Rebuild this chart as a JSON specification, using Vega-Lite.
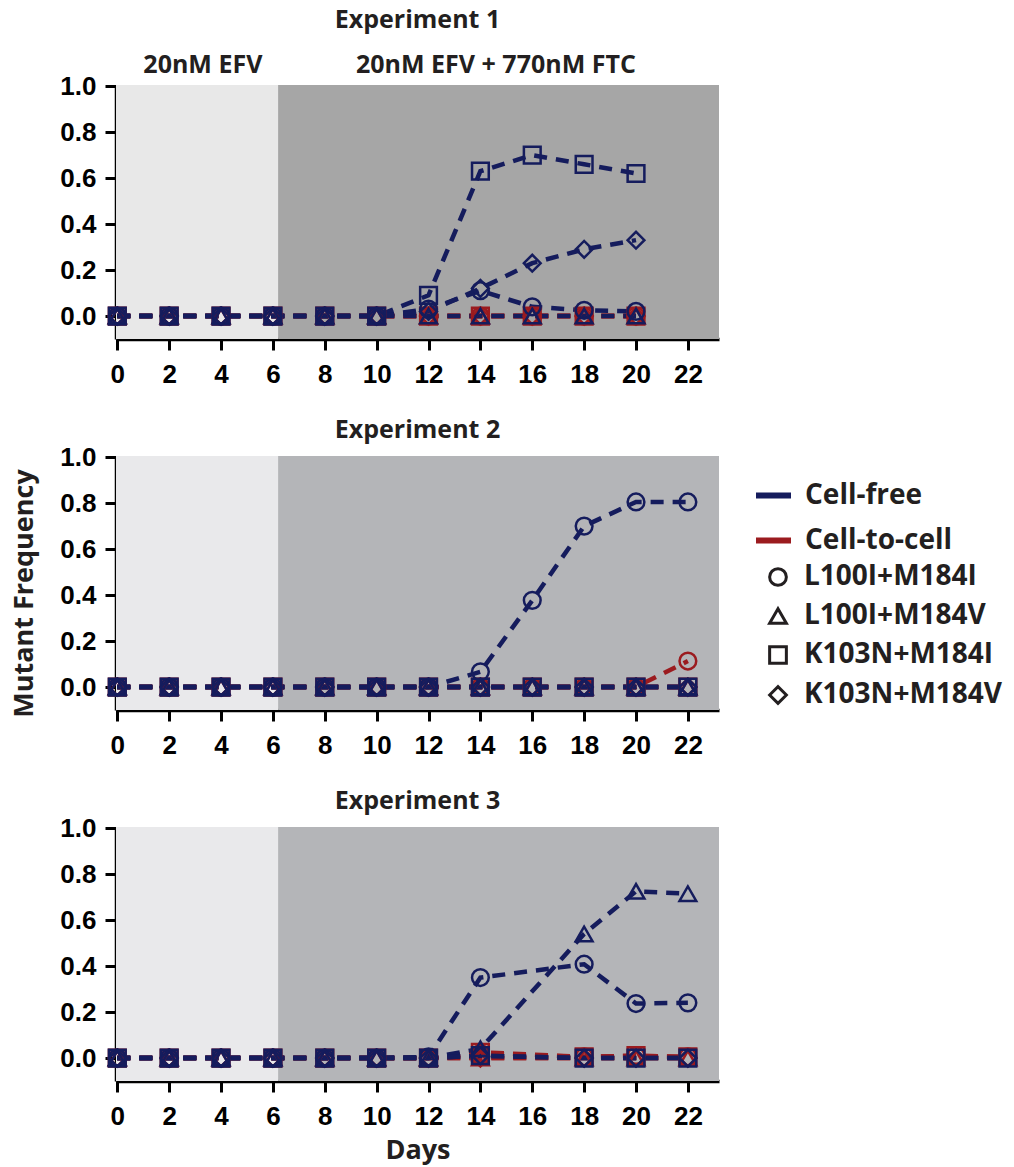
{
"$schema":"https://vega.github.io/schema/vega-lite/v6.json",
"background":"white",
"padding":{"left":10,"top":8,"right":5,"bottom":5},
"bounds":"flush",
"spacing":117,
"datasets":{
"zones":[
{"z":"pre","s":-0.05,"t":6.2,"mid":3.3,"label":"20nM EFV"},
{"z":"post","s":6.2,"t":23.2,"mid":14.6,"label":"20nM EFV + 770nM FTC"}
],
"obs":[
{"e":1,"m":"Cell-to-cell","k":"L100I+M184I","d":0,"f":0},{"e":1,"m":"Cell-to-cell","k":"L100I+M184I","d":2,"f":0},{"e":1,"m":"Cell-to-cell","k":"L100I+M184I","d":4,"f":0},{"e":1,"m":"Cell-to-cell","k":"L100I+M184I","d":6,"f":0},{"e":1,"m":"Cell-to-cell","k":"L100I+M184I","d":8,"f":0},{"e":1,"m":"Cell-to-cell","k":"L100I+M184I","d":10,"f":0},{"e":1,"m":"Cell-to-cell","k":"L100I+M184I","d":12,"f":0},{"e":1,"m":"Cell-to-cell","k":"L100I+M184I","d":14,"f":0},{"e":1,"m":"Cell-to-cell","k":"L100I+M184I","d":16,"f":0},{"e":1,"m":"Cell-to-cell","k":"L100I+M184I","d":18,"f":0},{"e":1,"m":"Cell-to-cell","k":"L100I+M184I","d":20,"f":0},
{"e":1,"m":"Cell-to-cell","k":"L100I+M184V","d":0,"f":0},{"e":1,"m":"Cell-to-cell","k":"L100I+M184V","d":2,"f":0},{"e":1,"m":"Cell-to-cell","k":"L100I+M184V","d":4,"f":0},{"e":1,"m":"Cell-to-cell","k":"L100I+M184V","d":6,"f":0},{"e":1,"m":"Cell-to-cell","k":"L100I+M184V","d":8,"f":0},{"e":1,"m":"Cell-to-cell","k":"L100I+M184V","d":10,"f":0},{"e":1,"m":"Cell-to-cell","k":"L100I+M184V","d":12,"f":0},{"e":1,"m":"Cell-to-cell","k":"L100I+M184V","d":14,"f":0},{"e":1,"m":"Cell-to-cell","k":"L100I+M184V","d":16,"f":0},{"e":1,"m":"Cell-to-cell","k":"L100I+M184V","d":18,"f":0},{"e":1,"m":"Cell-to-cell","k":"L100I+M184V","d":20,"f":0},
{"e":1,"m":"Cell-to-cell","k":"K103N+M184I","d":0,"f":0},{"e":1,"m":"Cell-to-cell","k":"K103N+M184I","d":2,"f":0},{"e":1,"m":"Cell-to-cell","k":"K103N+M184I","d":4,"f":0},{"e":1,"m":"Cell-to-cell","k":"K103N+M184I","d":6,"f":0},{"e":1,"m":"Cell-to-cell","k":"K103N+M184I","d":8,"f":0},{"e":1,"m":"Cell-to-cell","k":"K103N+M184I","d":10,"f":0},{"e":1,"m":"Cell-to-cell","k":"K103N+M184I","d":12,"f":0},{"e":1,"m":"Cell-to-cell","k":"K103N+M184I","d":14,"f":0},{"e":1,"m":"Cell-to-cell","k":"K103N+M184I","d":16,"f":0},{"e":1,"m":"Cell-to-cell","k":"K103N+M184I","d":18,"f":0},{"e":1,"m":"Cell-to-cell","k":"K103N+M184I","d":20,"f":0},
{"e":1,"m":"Cell-to-cell","k":"K103N+M184V","d":0,"f":0},{"e":1,"m":"Cell-to-cell","k":"K103N+M184V","d":2,"f":0},{"e":1,"m":"Cell-to-cell","k":"K103N+M184V","d":4,"f":0},{"e":1,"m":"Cell-to-cell","k":"K103N+M184V","d":6,"f":0},{"e":1,"m":"Cell-to-cell","k":"K103N+M184V","d":8,"f":0},{"e":1,"m":"Cell-to-cell","k":"K103N+M184V","d":10,"f":0},{"e":1,"m":"Cell-to-cell","k":"K103N+M184V","d":12,"f":0},{"e":1,"m":"Cell-to-cell","k":"K103N+M184V","d":14,"f":0},{"e":1,"m":"Cell-to-cell","k":"K103N+M184V","d":16,"f":0},{"e":1,"m":"Cell-to-cell","k":"K103N+M184V","d":18,"f":0},{"e":1,"m":"Cell-to-cell","k":"K103N+M184V","d":20,"f":0},
{"e":1,"m":"Cell-free","k":"L100I+M184I","d":0,"f":0},{"e":1,"m":"Cell-free","k":"L100I+M184I","d":2,"f":0},{"e":1,"m":"Cell-free","k":"L100I+M184I","d":4,"f":0},{"e":1,"m":"Cell-free","k":"L100I+M184I","d":6,"f":0},{"e":1,"m":"Cell-free","k":"L100I+M184I","d":8,"f":0},{"e":1,"m":"Cell-free","k":"L100I+M184I","d":10,"f":0},{"e":1,"m":"Cell-free","k":"L100I+M184I","d":12,"f":0.03},{"e":1,"m":"Cell-free","k":"L100I+M184I","d":14,"f":0.11},{"e":1,"m":"Cell-free","k":"L100I+M184I","d":16,"f":0.04},{"e":1,"m":"Cell-free","k":"L100I+M184I","d":18,"f":0.025},{"e":1,"m":"Cell-free","k":"L100I+M184I","d":20,"f":0.02},
{"e":1,"m":"Cell-free","k":"L100I+M184V","d":0,"f":0},{"e":1,"m":"Cell-free","k":"L100I+M184V","d":2,"f":0},{"e":1,"m":"Cell-free","k":"L100I+M184V","d":4,"f":0},{"e":1,"m":"Cell-free","k":"L100I+M184V","d":6,"f":0},{"e":1,"m":"Cell-free","k":"L100I+M184V","d":8,"f":0},{"e":1,"m":"Cell-free","k":"L100I+M184V","d":10,"f":0},{"e":1,"m":"Cell-free","k":"L100I+M184V","d":12,"f":0},{"e":1,"m":"Cell-free","k":"L100I+M184V","d":14,"f":0},{"e":1,"m":"Cell-free","k":"L100I+M184V","d":16,"f":0},{"e":1,"m":"Cell-free","k":"L100I+M184V","d":18,"f":0},{"e":1,"m":"Cell-free","k":"L100I+M184V","d":20,"f":0},
{"e":1,"m":"Cell-free","k":"K103N+M184I","d":0,"f":0},{"e":1,"m":"Cell-free","k":"K103N+M184I","d":2,"f":0},{"e":1,"m":"Cell-free","k":"K103N+M184I","d":4,"f":0},{"e":1,"m":"Cell-free","k":"K103N+M184I","d":6,"f":0},{"e":1,"m":"Cell-free","k":"K103N+M184I","d":8,"f":0},{"e":1,"m":"Cell-free","k":"K103N+M184I","d":10,"f":0},{"e":1,"m":"Cell-free","k":"K103N+M184I","d":12,"f":0.09},{"e":1,"m":"Cell-free","k":"K103N+M184I","d":14,"f":0.63},{"e":1,"m":"Cell-free","k":"K103N+M184I","d":16,"f":0.70},{"e":1,"m":"Cell-free","k":"K103N+M184I","d":18,"f":0.66},{"e":1,"m":"Cell-free","k":"K103N+M184I","d":20,"f":0.62},
{"e":1,"m":"Cell-free","k":"K103N+M184V","d":0,"f":0},{"e":1,"m":"Cell-free","k":"K103N+M184V","d":2,"f":0},{"e":1,"m":"Cell-free","k":"K103N+M184V","d":4,"f":0},{"e":1,"m":"Cell-free","k":"K103N+M184V","d":6,"f":0},{"e":1,"m":"Cell-free","k":"K103N+M184V","d":8,"f":0},{"e":1,"m":"Cell-free","k":"K103N+M184V","d":10,"f":0},{"e":1,"m":"Cell-free","k":"K103N+M184V","d":12,"f":0.02},{"e":1,"m":"Cell-free","k":"K103N+M184V","d":14,"f":0.12},{"e":1,"m":"Cell-free","k":"K103N+M184V","d":16,"f":0.23},{"e":1,"m":"Cell-free","k":"K103N+M184V","d":18,"f":0.29},{"e":1,"m":"Cell-free","k":"K103N+M184V","d":20,"f":0.33},

{"e":2,"m":"Cell-to-cell","k":"L100I+M184I","d":0,"f":0},{"e":2,"m":"Cell-to-cell","k":"L100I+M184I","d":2,"f":0},{"e":2,"m":"Cell-to-cell","k":"L100I+M184I","d":4,"f":0},{"e":2,"m":"Cell-to-cell","k":"L100I+M184I","d":6,"f":0},{"e":2,"m":"Cell-to-cell","k":"L100I+M184I","d":8,"f":0},{"e":2,"m":"Cell-to-cell","k":"L100I+M184I","d":10,"f":0},{"e":2,"m":"Cell-to-cell","k":"L100I+M184I","d":12,"f":0},{"e":2,"m":"Cell-to-cell","k":"L100I+M184I","d":14,"f":0},{"e":2,"m":"Cell-to-cell","k":"L100I+M184I","d":16,"f":0},{"e":2,"m":"Cell-to-cell","k":"L100I+M184I","d":18,"f":0},{"e":2,"m":"Cell-to-cell","k":"L100I+M184I","d":20,"f":0},{"e":2,"m":"Cell-to-cell","k":"L100I+M184I","d":22,"f":0.113},
{"e":2,"m":"Cell-to-cell","k":"L100I+M184V","d":0,"f":0},{"e":2,"m":"Cell-to-cell","k":"L100I+M184V","d":2,"f":0},{"e":2,"m":"Cell-to-cell","k":"L100I+M184V","d":4,"f":0},{"e":2,"m":"Cell-to-cell","k":"L100I+M184V","d":6,"f":0},{"e":2,"m":"Cell-to-cell","k":"L100I+M184V","d":8,"f":0},{"e":2,"m":"Cell-to-cell","k":"L100I+M184V","d":10,"f":0},{"e":2,"m":"Cell-to-cell","k":"L100I+M184V","d":12,"f":0},{"e":2,"m":"Cell-to-cell","k":"L100I+M184V","d":14,"f":0},{"e":2,"m":"Cell-to-cell","k":"L100I+M184V","d":16,"f":0},{"e":2,"m":"Cell-to-cell","k":"L100I+M184V","d":18,"f":0},{"e":2,"m":"Cell-to-cell","k":"L100I+M184V","d":20,"f":0},{"e":2,"m":"Cell-to-cell","k":"L100I+M184V","d":22,"f":0},
{"e":2,"m":"Cell-to-cell","k":"K103N+M184I","d":0,"f":0},{"e":2,"m":"Cell-to-cell","k":"K103N+M184I","d":2,"f":0},{"e":2,"m":"Cell-to-cell","k":"K103N+M184I","d":4,"f":0},{"e":2,"m":"Cell-to-cell","k":"K103N+M184I","d":6,"f":0},{"e":2,"m":"Cell-to-cell","k":"K103N+M184I","d":8,"f":0},{"e":2,"m":"Cell-to-cell","k":"K103N+M184I","d":10,"f":0},{"e":2,"m":"Cell-to-cell","k":"K103N+M184I","d":12,"f":0},{"e":2,"m":"Cell-to-cell","k":"K103N+M184I","d":14,"f":0},{"e":2,"m":"Cell-to-cell","k":"K103N+M184I","d":16,"f":0},{"e":2,"m":"Cell-to-cell","k":"K103N+M184I","d":18,"f":0},{"e":2,"m":"Cell-to-cell","k":"K103N+M184I","d":20,"f":0},{"e":2,"m":"Cell-to-cell","k":"K103N+M184I","d":22,"f":0},
{"e":2,"m":"Cell-to-cell","k":"K103N+M184V","d":0,"f":0},{"e":2,"m":"Cell-to-cell","k":"K103N+M184V","d":2,"f":0},{"e":2,"m":"Cell-to-cell","k":"K103N+M184V","d":4,"f":0},{"e":2,"m":"Cell-to-cell","k":"K103N+M184V","d":6,"f":0},{"e":2,"m":"Cell-to-cell","k":"K103N+M184V","d":8,"f":0},{"e":2,"m":"Cell-to-cell","k":"K103N+M184V","d":10,"f":0},{"e":2,"m":"Cell-to-cell","k":"K103N+M184V","d":12,"f":0},{"e":2,"m":"Cell-to-cell","k":"K103N+M184V","d":14,"f":0},{"e":2,"m":"Cell-to-cell","k":"K103N+M184V","d":16,"f":0},{"e":2,"m":"Cell-to-cell","k":"K103N+M184V","d":18,"f":0},{"e":2,"m":"Cell-to-cell","k":"K103N+M184V","d":20,"f":0},{"e":2,"m":"Cell-to-cell","k":"K103N+M184V","d":22,"f":0},
{"e":2,"m":"Cell-free","k":"L100I+M184I","d":0,"f":0},{"e":2,"m":"Cell-free","k":"L100I+M184I","d":2,"f":0},{"e":2,"m":"Cell-free","k":"L100I+M184I","d":4,"f":0},{"e":2,"m":"Cell-free","k":"L100I+M184I","d":6,"f":0},{"e":2,"m":"Cell-free","k":"L100I+M184I","d":8,"f":0},{"e":2,"m":"Cell-free","k":"L100I+M184I","d":10,"f":0},{"e":2,"m":"Cell-free","k":"L100I+M184I","d":12,"f":0},{"e":2,"m":"Cell-free","k":"L100I+M184I","d":14,"f":0.066},{"e":2,"m":"Cell-free","k":"L100I+M184I","d":16,"f":0.377},{"e":2,"m":"Cell-free","k":"L100I+M184I","d":18,"f":0.70},{"e":2,"m":"Cell-free","k":"L100I+M184I","d":20,"f":0.805},{"e":2,"m":"Cell-free","k":"L100I+M184I","d":22,"f":0.805},
{"e":2,"m":"Cell-free","k":"L100I+M184V","d":0,"f":0},{"e":2,"m":"Cell-free","k":"L100I+M184V","d":2,"f":0},{"e":2,"m":"Cell-free","k":"L100I+M184V","d":4,"f":0},{"e":2,"m":"Cell-free","k":"L100I+M184V","d":6,"f":0},{"e":2,"m":"Cell-free","k":"L100I+M184V","d":8,"f":0},{"e":2,"m":"Cell-free","k":"L100I+M184V","d":10,"f":0},{"e":2,"m":"Cell-free","k":"L100I+M184V","d":12,"f":0},{"e":2,"m":"Cell-free","k":"L100I+M184V","d":14,"f":0},{"e":2,"m":"Cell-free","k":"L100I+M184V","d":16,"f":0},{"e":2,"m":"Cell-free","k":"L100I+M184V","d":18,"f":0},{"e":2,"m":"Cell-free","k":"L100I+M184V","d":20,"f":0},{"e":2,"m":"Cell-free","k":"L100I+M184V","d":22,"f":0},
{"e":2,"m":"Cell-free","k":"K103N+M184I","d":0,"f":0},{"e":2,"m":"Cell-free","k":"K103N+M184I","d":2,"f":0},{"e":2,"m":"Cell-free","k":"K103N+M184I","d":4,"f":0},{"e":2,"m":"Cell-free","k":"K103N+M184I","d":6,"f":0},{"e":2,"m":"Cell-free","k":"K103N+M184I","d":8,"f":0},{"e":2,"m":"Cell-free","k":"K103N+M184I","d":10,"f":0},{"e":2,"m":"Cell-free","k":"K103N+M184I","d":12,"f":0},{"e":2,"m":"Cell-free","k":"K103N+M184I","d":14,"f":0},{"e":2,"m":"Cell-free","k":"K103N+M184I","d":16,"f":0},{"e":2,"m":"Cell-free","k":"K103N+M184I","d":18,"f":0},{"e":2,"m":"Cell-free","k":"K103N+M184I","d":20,"f":0},{"e":2,"m":"Cell-free","k":"K103N+M184I","d":22,"f":0},
{"e":2,"m":"Cell-free","k":"K103N+M184V","d":0,"f":0},{"e":2,"m":"Cell-free","k":"K103N+M184V","d":2,"f":0},{"e":2,"m":"Cell-free","k":"K103N+M184V","d":4,"f":0},{"e":2,"m":"Cell-free","k":"K103N+M184V","d":6,"f":0},{"e":2,"m":"Cell-free","k":"K103N+M184V","d":8,"f":0},{"e":2,"m":"Cell-free","k":"K103N+M184V","d":10,"f":0},{"e":2,"m":"Cell-free","k":"K103N+M184V","d":12,"f":0},{"e":2,"m":"Cell-free","k":"K103N+M184V","d":14,"f":0},{"e":2,"m":"Cell-free","k":"K103N+M184V","d":16,"f":0},{"e":2,"m":"Cell-free","k":"K103N+M184V","d":18,"f":0},{"e":2,"m":"Cell-free","k":"K103N+M184V","d":20,"f":0},{"e":2,"m":"Cell-free","k":"K103N+M184V","d":22,"f":0},

{"e":3,"m":"Cell-to-cell","k":"L100I+M184I","d":0,"f":0},{"e":3,"m":"Cell-to-cell","k":"L100I+M184I","d":2,"f":0},{"e":3,"m":"Cell-to-cell","k":"L100I+M184I","d":4,"f":0},{"e":3,"m":"Cell-to-cell","k":"L100I+M184I","d":6,"f":0},{"e":3,"m":"Cell-to-cell","k":"L100I+M184I","d":8,"f":0},{"e":3,"m":"Cell-to-cell","k":"L100I+M184I","d":10,"f":0},{"e":3,"m":"Cell-to-cell","k":"L100I+M184I","d":12,"f":0},{"e":3,"m":"Cell-to-cell","k":"L100I+M184I","d":14,"f":0.02},{"e":3,"m":"Cell-to-cell","k":"L100I+M184I","d":18,"f":0.005},{"e":3,"m":"Cell-to-cell","k":"L100I+M184I","d":20,"f":0.01},{"e":3,"m":"Cell-to-cell","k":"L100I+M184I","d":22,"f":0.005},
{"e":3,"m":"Cell-to-cell","k":"L100I+M184V","d":0,"f":0},{"e":3,"m":"Cell-to-cell","k":"L100I+M184V","d":2,"f":0},{"e":3,"m":"Cell-to-cell","k":"L100I+M184V","d":4,"f":0},{"e":3,"m":"Cell-to-cell","k":"L100I+M184V","d":6,"f":0},{"e":3,"m":"Cell-to-cell","k":"L100I+M184V","d":8,"f":0},{"e":3,"m":"Cell-to-cell","k":"L100I+M184V","d":10,"f":0},{"e":3,"m":"Cell-to-cell","k":"L100I+M184V","d":12,"f":0},{"e":3,"m":"Cell-to-cell","k":"L100I+M184V","d":14,"f":0},{"e":3,"m":"Cell-to-cell","k":"L100I+M184V","d":18,"f":0},{"e":3,"m":"Cell-to-cell","k":"L100I+M184V","d":20,"f":0},{"e":3,"m":"Cell-to-cell","k":"L100I+M184V","d":22,"f":0},
{"e":3,"m":"Cell-to-cell","k":"K103N+M184I","d":0,"f":0},{"e":3,"m":"Cell-to-cell","k":"K103N+M184I","d":2,"f":0},{"e":3,"m":"Cell-to-cell","k":"K103N+M184I","d":4,"f":0},{"e":3,"m":"Cell-to-cell","k":"K103N+M184I","d":6,"f":0},{"e":3,"m":"Cell-to-cell","k":"K103N+M184I","d":8,"f":0},{"e":3,"m":"Cell-to-cell","k":"K103N+M184I","d":10,"f":0},{"e":3,"m":"Cell-to-cell","k":"K103N+M184I","d":12,"f":0},{"e":3,"m":"Cell-to-cell","k":"K103N+M184I","d":14,"f":0.025},{"e":3,"m":"Cell-to-cell","k":"K103N+M184I","d":18,"f":0.005},{"e":3,"m":"Cell-to-cell","k":"K103N+M184I","d":20,"f":0.01},{"e":3,"m":"Cell-to-cell","k":"K103N+M184I","d":22,"f":0.005},
{"e":3,"m":"Cell-to-cell","k":"K103N+M184V","d":0,"f":0},{"e":3,"m":"Cell-to-cell","k":"K103N+M184V","d":2,"f":0},{"e":3,"m":"Cell-to-cell","k":"K103N+M184V","d":4,"f":0},{"e":3,"m":"Cell-to-cell","k":"K103N+M184V","d":6,"f":0},{"e":3,"m":"Cell-to-cell","k":"K103N+M184V","d":8,"f":0},{"e":3,"m":"Cell-to-cell","k":"K103N+M184V","d":10,"f":0},{"e":3,"m":"Cell-to-cell","k":"K103N+M184V","d":12,"f":0},{"e":3,"m":"Cell-to-cell","k":"K103N+M184V","d":14,"f":0},{"e":3,"m":"Cell-to-cell","k":"K103N+M184V","d":18,"f":0},{"e":3,"m":"Cell-to-cell","k":"K103N+M184V","d":20,"f":0},{"e":3,"m":"Cell-to-cell","k":"K103N+M184V","d":22,"f":0},
{"e":3,"m":"Cell-free","k":"L100I+M184I","d":0,"f":0},{"e":3,"m":"Cell-free","k":"L100I+M184I","d":2,"f":0},{"e":3,"m":"Cell-free","k":"L100I+M184I","d":4,"f":0},{"e":3,"m":"Cell-free","k":"L100I+M184I","d":6,"f":0},{"e":3,"m":"Cell-free","k":"L100I+M184I","d":8,"f":0},{"e":3,"m":"Cell-free","k":"L100I+M184I","d":10,"f":0},{"e":3,"m":"Cell-free","k":"L100I+M184I","d":12,"f":0.005},{"e":3,"m":"Cell-free","k":"L100I+M184I","d":14,"f":0.35},{"e":3,"m":"Cell-free","k":"L100I+M184I","d":18,"f":0.408},{"e":3,"m":"Cell-free","k":"L100I+M184I","d":20,"f":0.237},{"e":3,"m":"Cell-free","k":"L100I+M184I","d":22,"f":0.24},
{"e":3,"m":"Cell-free","k":"L100I+M184V","d":0,"f":0},{"e":3,"m":"Cell-free","k":"L100I+M184V","d":2,"f":0},{"e":3,"m":"Cell-free","k":"L100I+M184V","d":4,"f":0},{"e":3,"m":"Cell-free","k":"L100I+M184V","d":6,"f":0},{"e":3,"m":"Cell-free","k":"L100I+M184V","d":8,"f":0},{"e":3,"m":"Cell-free","k":"L100I+M184V","d":10,"f":0},{"e":3,"m":"Cell-free","k":"L100I+M184V","d":12,"f":0},{"e":3,"m":"Cell-free","k":"L100I+M184V","d":14,"f":0.04},{"e":3,"m":"Cell-free","k":"L100I+M184V","d":18,"f":0.54},{"e":3,"m":"Cell-free","k":"L100I+M184V","d":20,"f":0.725},{"e":3,"m":"Cell-free","k":"L100I+M184V","d":22,"f":0.715},
{"e":3,"m":"Cell-free","k":"K103N+M184I","d":0,"f":0},{"e":3,"m":"Cell-free","k":"K103N+M184I","d":2,"f":0},{"e":3,"m":"Cell-free","k":"K103N+M184I","d":4,"f":0},{"e":3,"m":"Cell-free","k":"K103N+M184I","d":6,"f":0},{"e":3,"m":"Cell-free","k":"K103N+M184I","d":8,"f":0},{"e":3,"m":"Cell-free","k":"K103N+M184I","d":10,"f":0},{"e":3,"m":"Cell-free","k":"K103N+M184I","d":12,"f":0},{"e":3,"m":"Cell-free","k":"K103N+M184I","d":14,"f":0.01},{"e":3,"m":"Cell-free","k":"K103N+M184I","d":18,"f":0},{"e":3,"m":"Cell-free","k":"K103N+M184I","d":20,"f":0},{"e":3,"m":"Cell-free","k":"K103N+M184I","d":22,"f":0},
{"e":3,"m":"Cell-free","k":"K103N+M184V","d":0,"f":0},{"e":3,"m":"Cell-free","k":"K103N+M184V","d":2,"f":0},{"e":3,"m":"Cell-free","k":"K103N+M184V","d":4,"f":0},{"e":3,"m":"Cell-free","k":"K103N+M184V","d":6,"f":0},{"e":3,"m":"Cell-free","k":"K103N+M184V","d":8,"f":0},{"e":3,"m":"Cell-free","k":"K103N+M184V","d":10,"f":0},{"e":3,"m":"Cell-free","k":"K103N+M184V","d":12,"f":0},{"e":3,"m":"Cell-free","k":"K103N+M184V","d":14,"f":0.01},{"e":3,"m":"Cell-free","k":"K103N+M184V","d":18,"f":0},{"e":3,"m":"Cell-free","k":"K103N+M184V","d":20,"f":0},{"e":3,"m":"Cell-free","k":"K103N+M184V","d":22,"f":0}
]
},
"config":{
"view":{"stroke":null},
"axis":{"domainColor":"#000","domainWidth":3.5,"tickColor":"#000","tickWidth":3,"tickSize":11,"grid":false,"labelFont":"Liberation Sans","labelFontWeight":"bold","labelFontSize":26,"labelColor":"#000","labelFlush":false,"labelOverlap":false,"labelBound":false,"titleFont":"Open Sans","titleFontWeight":"bold","titleFontSize":27,"titleColor":"#231f20"},
"axisX":{"labelPadding":11},
"axisY":{"labelPadding":9,"titlePadding":21},
"title":{"font":"Open Sans","fontWeight":"bold","fontSize":25,"color":"#231f20","anchor":"middle","frame":"group"},
"legend":{"padding":0,"labelFont":"Open Sans","labelFontWeight":"bold","labelFontSize":28,"labelColor":"#231f20","labelLimit":0,"titlePadding":0}
},
"vconcat":[
{
"width":603,"height":254,
"title":{"text":"Experiment 1","offset":20},
"layer":[
{"data":{"name":"zones"},"transform":[{"filter":"datum.z==='pre'"}],"mark":{"type":"rect","color":"#e8e8e8"},
 "encoding":{"x":{"field":"s","type":"quantitative","scale":{"domain":[-0.05,23.2],"nice":false,"zero":false},"axis":{"values":[0,2,4,6,8,10,12,14,16,18,20,22],"title":null}},"x2":{"field":"t"}}},
{"data":{"name":"zones"},"transform":[{"filter":"datum.z==='post'"}],"mark":{"type":"rect","color":"#a6a6a6"},
 "encoding":{"x":{"field":"s","type":"quantitative"},"x2":{"field":"t"}}},
{"data":{"name":"zones"},"mark":{"type":"text","font":"Open Sans","fontWeight":"bold","fontSize":25,"color":"#231f20","baseline":"alphabetic","dy":-13},
 "encoding":{"x":{"field":"mid","type":"quantitative"},"y":{"datum":1.0,"type":"quantitative"},"text":{"field":"label"}}},
{"data":{"name":"obs"},"transform":[{"filter":"datum.e===1"}],"mark":{"type":"line","strokeWidth":4.5,"strokeDash":[13,9]},
 "encoding":{"x":{"field":"d","type":"quantitative"},"y":{"field":"f","type":"quantitative","scale":{"domain":[-0.1,1.005],"nice":false,"zero":false},"axis":{"values":[0,0.2,0.4,0.6,0.8,1],"format":".1f","title":null}},
 "color":{"field":"m","type":"nominal","scale":{"domain":["Cell-free","Cell-to-cell"],"range":["#151c5d","#9b1b1f"]},"legend":null},"detail":{"field":"k"}}},
{"data":{"name":"obs"},"transform":[{"filter":"datum.e===1"}],"mark":{"type":"point","filled":false,"strokeWidth":2.5,"size":280,"opacity":1},
 "encoding":{"x":{"field":"d","type":"quantitative"},"y":{"field":"f","type":"quantitative"},
 "color":{"field":"m","type":"nominal","scale":{"domain":["Cell-free","Cell-to-cell"],"range":["#151c5d","#9b1b1f"]},"legend":null},
 "shape":{"field":"k","type":"nominal","scale":{"domain":["L100I+M184I","L100I+M184V","K103N+M184I","K103N+M184V"],"range":["circle","triangle-up","square","diamond"]},"legend":null}}}
]
},
{
"width":603,"height":254,
"title":{"text":"Experiment 2","offset":1},
"layer":[
{"data":{"name":"zones"},"transform":[{"filter":"datum.z==='pre'"}],"mark":{"type":"rect","color":"#e9e9eb"},
 "encoding":{"x":{"field":"s","type":"quantitative","scale":{"domain":[-0.05,23.2],"nice":false,"zero":false},"axis":{"values":[0,2,4,6,8,10,12,14,16,18,20,22],"title":null}},"x2":{"field":"t"}}},
{"data":{"name":"zones"},"transform":[{"filter":"datum.z==='post'"}],"mark":{"type":"rect","color":"#b4b5b8"},
 "encoding":{"x":{"field":"s","type":"quantitative"},"x2":{"field":"t"}}},
{"data":{"name":"obs"},"transform":[{"filter":"datum.e===2"}],"mark":{"type":"line","strokeWidth":4.5,"strokeDash":[13,9]},
 "encoding":{"x":{"field":"d","type":"quantitative"},"y":{"field":"f","type":"quantitative","scale":{"domain":[-0.1,1.005],"nice":false,"zero":false},"axis":{"values":[0,0.2,0.4,0.6,0.8,1],"format":".1f","title":"Mutant Frequency","titleY":137}},
 "color":{"field":"m","type":"nominal","scale":{"domain":["Cell-free","Cell-to-cell"],"range":["#151c5d","#9b1b1f"]},"legend":{"orient":"none","legendX":637,"legendY":19,"title":null,"symbolType":"stroke","symbolSize":1225,"symbolStrokeWidth":6,"labelOffset":11,"rowPadding":10}},"detail":{"field":"k"}}},
{"data":{"name":"obs"},"transform":[{"filter":"datum.e===2"}],"mark":{"type":"point","filled":false,"strokeWidth":2.5,"size":280,"opacity":1},
 "encoding":{"x":{"field":"d","type":"quantitative"},"y":{"field":"f","type":"quantitative"},
 "color":{"field":"m","type":"nominal","scale":{"domain":["Cell-free","Cell-to-cell"],"range":["#151c5d","#9b1b1f"]}},
 "shape":{"field":"k","type":"nominal","scale":{"domain":["L100I+M184I","L100I+M184V","K103N+M184I","K103N+M184V"],"range":["circle","triangle-up","square","diamond"]},"legend":{"orient":"none","legendX":648,"legendY":107,"title":null,"symbolStrokeColor":"#231f20","symbolFillColor":"transparent","symbolStrokeWidth":3,"symbolSize":280,"labelOffset":12,"rowPadding":10}}}}
]
},
{
"width":603,"height":254,
"title":{"text":"Experiment 3","offset":1},
"layer":[
{"data":{"name":"zones"},"transform":[{"filter":"datum.z==='pre'"}],"mark":{"type":"rect","color":"#e9e9eb"},
 "encoding":{"x":{"field":"s","type":"quantitative","scale":{"domain":[-0.05,23.2],"nice":false,"zero":false},"axis":{"values":[0,2,4,6,8,10,12,14,16,18,20,22],"title":"Days","titlePadding":8}},"x2":{"field":"t"}}},
{"data":{"name":"zones"},"transform":[{"filter":"datum.z==='post'"}],"mark":{"type":"rect","color":"#b4b5b8"},
 "encoding":{"x":{"field":"s","type":"quantitative"},"x2":{"field":"t"}}},
{"data":{"name":"obs"},"transform":[{"filter":"datum.e===3"}],"mark":{"type":"line","strokeWidth":4.5,"strokeDash":[13,9]},
 "encoding":{"x":{"field":"d","type":"quantitative"},"y":{"field":"f","type":"quantitative","scale":{"domain":[-0.1,1.005],"nice":false,"zero":false},"axis":{"values":[0,0.2,0.4,0.6,0.8,1],"format":".1f","title":null}},
 "color":{"field":"m","type":"nominal","scale":{"domain":["Cell-free","Cell-to-cell"],"range":["#151c5d","#9b1b1f"]},"legend":null},"detail":{"field":"k"}}},
{"data":{"name":"obs"},"transform":[{"filter":"datum.e===3"}],"mark":{"type":"point","filled":false,"strokeWidth":2.5,"size":280,"opacity":1},
 "encoding":{"x":{"field":"d","type":"quantitative"},"y":{"field":"f","type":"quantitative"},
 "color":{"field":"m","type":"nominal","scale":{"domain":["Cell-free","Cell-to-cell"],"range":["#151c5d","#9b1b1f"]},"legend":null},
 "shape":{"field":"k","type":"nominal","scale":{"domain":["L100I+M184I","L100I+M184V","K103N+M184I","K103N+M184V"],"range":["circle","triangle-up","square","diamond"]},"legend":null}}}
]
}
],
"resolve":{"scale":{"color":"independent","shape":"independent"},"legend":{"color":"independent","shape":"independent"}}
}
